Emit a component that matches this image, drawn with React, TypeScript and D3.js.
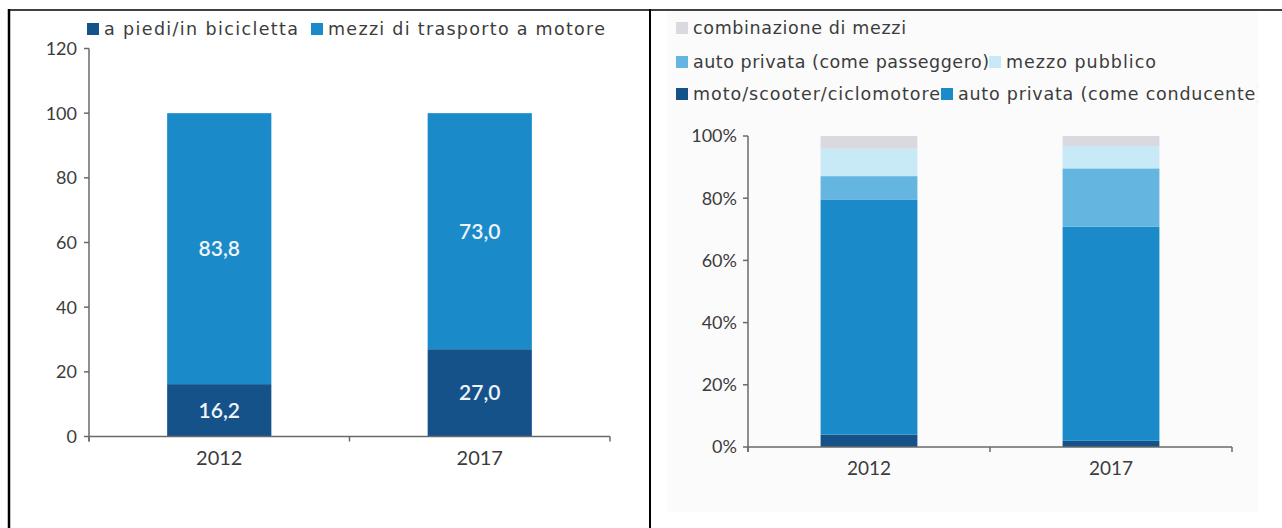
import React from "react";
import { scaleLinear, scaleBand, stack } from "d3";

// shared categories
const years = ["2012", "2017"];

// left chart: a piedi vs mezzi a motore (valori %)
const leftKeys = ["piedi", "motore"];
const leftLabels = ["a piedi/in bicicletta", "mezzi di trasporto a motore"];
const piedi = [16.2, 27.0];
const motore = [83.8, 73.0];
const leftTicks = [0, 20, 40, 60, 80, 100, 120];

// right chart: ripartizione mezzi a motore (quote)
const rightKeys = ["moto", "conducente", "passeggero", "pubblico", "combinazione"];
const rightLabels = [
  "moto/scooter/ciclomotore",
  "auto privata (come conducente)",
  "auto privata (come passeggero)",
  "mezzo pubblico",
  "combinazione di mezzi",
];
const moto = [4.0, 2.0];
const conducente = [75.6, 68.8];
const passeggero = [7.5, 18.8];
const pubblico = [8.8, 7.2];
const combinazione = [4.1, 3.2];
const rightTicks = [0, 0.2, 0.4, 0.6, 0.8, 1];

const navy = "#15528a";
const blue = "#1a8ac9";
const colorsLeft = [navy, blue];
const colorsRight = [navy, blue, "#65b5e1", "#c8e9f6", "#d8dadf"];

const FONT = "Lato, 'Open Sans', sans-serif";
const LEGEND_FONT = "'DejaVu Sans', sans-serif";
const TEXT = "#3c3c3c";
const AXIS = "#6a6a6a";

const leftRows = years.map((y, i) => ({ year: y, piedi: piedi[i], motore: motore[i] }));
const rightRows = years.map((y, i) => ({
  year: y,
  moto: moto[i] / 100,
  conducente: conducente[i] / 100,
  passeggero: passeggero[i] / 100,
  pubblico: pubblico[i] / 100,
  combinazione: combinazione[i] / 100,
}));

const fmt = (v: number) => v.toFixed(1).replace(".", ",");

// legend text is stretched to the width the original font takes
function LegendText({ x, y, w, children }: { x: number; y: number; w: number; children: string }) {
  return (
    <text
      x={x}
      y={y}
      dy="0.36em"
      fontFamily={LEGEND_FONT}
      fontSize={17.5}
      textLength={w}
      lengthAdjust="spacing"
      fill={TEXT}
    >
      {children}
    </text>
  );
}

function LeftChart() {
  const y = scaleLinear().domain([0, 120]).range([436.5, 48.5]);
  const x = scaleBand<string>().domain(years).range([89, 610]);
  const bw = x.bandwidth() * 0.4;
  const series = stack<any>().keys(leftKeys)(leftRows);
  const legend = [
    [87, 194],
    [311, 277],
  ];
  return (
    <g fontFamily={FONT}>
      {series.map((s, si) =>
        s.map((d, i) => {
          const cx = (x(years[i]) as number) + x.bandwidth() / 2;
          return (
            <g key={`${si}-${i}`}>
              <rect x={cx - bw / 2} width={bw} y={y(d[1])} height={y(d[0]) - y(d[1])} fill={colorsLeft[si]} />
              <text
                x={cx}
                y={(y(d[0]) + y(d[1])) / 2}
                dy="0.36em"
                textAnchor="middle"
                fontSize={21}
                fontWeight={600}
                fill="#eef4f9"
              >
                {fmt(d[1] - d[0])}
              </text>
            </g>
          );
        })
      )}
      {/* y axis */}
      <line x1={89} x2={89} y1={y(120)} y2={y(0) + 5} stroke={AXIS} strokeWidth={1.5} />
      {leftTicks.map((t) => (
        <g key={t}>
          <line x1={84} x2={89} y1={y(t)} y2={y(t)} stroke={AXIS} strokeWidth={1.5} />
          <text x={77} y={y(t)} dy="0.36em" textAnchor="end" fontSize={18} fill={TEXT}>
            {t}
          </text>
        </g>
      ))}
      {/* x axis */}
      <line x1={89} x2={610} y1={y(0)} y2={y(0)} stroke={AXIS} strokeWidth={1.5} />
      {[...years.map((yr) => x(yr) as number), 610].map((bx, i) => (
        <line key={i} x1={bx} x2={bx} y1={y(0)} y2={y(0) + 5} stroke={AXIS} strokeWidth={1.5} />
      ))}
      {years.map((yr) => (
        <text key={yr} x={(x(yr) as number) + x.bandwidth() / 2} y={458} dy="0.36em" textAnchor="middle" fontSize={20} fill={TEXT}>
          {yr}
        </text>
      ))}
      {/* legend */}
      {leftLabels.map((l, i) => {
        const [lx, w] = legend[i];
        return (
          <g key={l}>
            <rect x={lx} y={23} width={12} height={12} fill={colorsLeft[i]} />
            <LegendText x={lx + 17} y={29} w={w}>{l}</LegendText>
          </g>
        );
      })}
    </g>
  );
}

function RightChart() {
  const y = scaleLinear().domain([0, 1]).range([447, 136]);
  const x = scaleBand<string>().domain(years).range([748, 1232]);
  const bw = x.bandwidth() * 0.4;
  const series = stack<any>().keys(rightKeys)(rightRows);
  // x, y, text width
  const legendPos = [
    [676, 94, 247],
    [941, 94, 305],
    [676, 62, 296],
    [989, 62, 150],
    [676, 28, 213],
  ];
  return (
    <g fontFamily={FONT}>
      <defs>
        <clipPath id="rclip">
          <rect x={652} y={11} width={606} height={517} />
        </clipPath>
      </defs>
      <g clipPath="url(#rclip)">
        <rect x={667} y={11} width={591} height={501} fill="#fbfbfb" />
        {series.map((s, si) =>
          s.map((d, i) => {
            const cx = (x(years[i]) as number) + x.bandwidth() / 2;
            return (
              <rect
                key={`${si}-${i}`}
                x={cx - bw / 2}
                width={bw}
                y={y(d[1])}
                height={y(d[0]) - y(d[1])}
                fill={colorsRight[si]}
              />
            );
          })
        )}
        <line x1={748} x2={748} y1={y(1)} y2={y(0) + 5} stroke={AXIS} strokeWidth={1.5} />
        {rightTicks.map((t) => (
          <g key={t}>
            <line x1={743} x2={748} y1={y(t)} y2={y(t)} stroke={AXIS} strokeWidth={1.5} />
            <text x={737} y={y(t)} dy="0.36em" textAnchor="end" fontSize={18} fill={TEXT}>
              {Math.round(t * 100)}%
            </text>
          </g>
        ))}
        <line x1={748} x2={1232} y1={y(0)} y2={y(0)} stroke={AXIS} strokeWidth={1.5} />
        {[...years.map((yr) => x(yr) as number), 1232].map((bx, i) => (
          <line key={i} x1={bx} x2={bx} y1={y(0)} y2={y(0) + 5} stroke={AXIS} strokeWidth={1.5} />
        ))}
        {years.map((yr) => (
          <text key={yr} x={(x(yr) as number) + x.bandwidth() / 2} y={468} dy="0.36em" textAnchor="middle" fontSize={19} fill={TEXT}>
            {yr}
          </text>
        ))}
        {rightLabels.map((l, i) => {
          const [lx, ly, w] = legendPos[i];
          return (
            <g key={l}>
              <rect x={lx} y={ly - 6} width={12} height={12} fill={colorsRight[i]} />
              <LegendText x={lx + 17} y={ly} w={w}>{l}</LegendText>
            </g>
          );
        })}
      </g>
    </g>
  );
}

export default function App() {
  return (
    <div style={{ position: "absolute", left: 0, top: 0 }}>
      <svg width={1282} height={528} style={{ display: "block", background: "#fff" }}>
        {/* table frame */}
        <line x1={8} x2={1282} y1={10} y2={10} stroke="#000" strokeWidth={1.5} />
        <line x1={9} x2={9} y1={9} y2={528} stroke="#000" strokeWidth={2.5} />
        <line x1={650} x2={650} y1={9} y2={528} stroke="#000" strokeWidth={2} />
        <LeftChart />
        <RightChart />
      </svg>
    </div>
  );
}
